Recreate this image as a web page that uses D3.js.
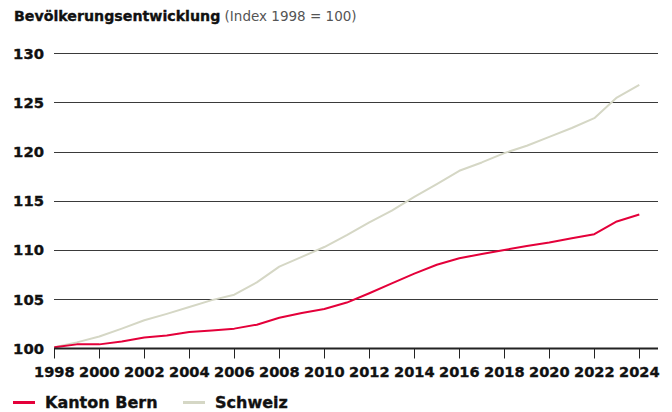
<!DOCTYPE html>
<html>
<head>
<meta charset="utf-8">
<script src="https://cdn.jsdelivr.net/npm/d3@7"></script>
<style>
  body { margin: 0; background: #fff; }
  svg text { font-family: "DejaVu Sans", sans-serif; }
  .heavy { stroke: #111; stroke-width: 0.35px; }
</style>
</head>
<body>
<div id="chart"></div>
<script>
// data (Index 1998 = 100)
const years = d3.range(1998, 2025);
const bern = [100.1, 100.4, 100.4, 100.7, 101.1, 101.3, 101.65, 101.8, 102.0, 102.4, 103.1, 103.6, 104.0,
  104.65, 105.6, 106.6, 107.6, 108.5, 109.15, 109.6, 110.0, 110.4, 110.75, 111.2, 111.6, 112.9, 113.6];
const schweiz = [100.1, 100.6, 101.2, 102.0, 102.85, 103.5, 104.2, 104.9, 105.45, 106.7, 108.3, 109.3, 110.3,
  111.5, 112.8, 114.0, 115.4, 116.7, 118.05, 118.9, 119.85, 120.6, 121.5, 122.4, 123.4, 125.5, 126.8];
const yTicks = [100, 105, 110, 115, 120, 125, 130];
const xTicks = d3.range(1998, 2025, 2);
const seriesNames = ["Kanton Bern", "Schweiz"];
const seriesColors = ["#e4003a", "#d5d7c5"];

const width = 672, height = 412;
const margin = {top: 53, right: 14, bottom: 64, left: 54};
const plotRight = 658;

const svg = d3.select("#chart").append("svg")
  .attr("width", width)
  .attr("height", height);

const x = d3.scaleLinear().domain([1998, 2024]).range([54.3, 639.3]);
const y = d3.scaleLinear().domain([100, 130]).range([348.3, 53.3]);

// title
const title = svg.append("text").attr("x", 14).attr("y", 21).attr("font-size", 14.2);
title.append("tspan").attr("font-weight", 700).attr("fill", "#111").attr("class", "heavy").text("Bevölkerungsentwicklung");
title.append("tspan").attr("font-weight", 400).attr("fill", "#555").attr("font-size", 13.5).text(" (Index 1998 = 100)");

// gridlines + y labels
const grid = svg.append("g");
grid.selectAll("line").data(yTicks.filter(d => d > 100)).join("line")
  .attr("x1", margin.left).attr("x2", plotRight)
  .attr("y1", d => Math.round(y(d)) + 0.5).attr("y2", d => Math.round(y(d)) + 0.5)
  .attr("stroke", "#3a3a3a").attr("stroke-width", 1);

svg.append("g").selectAll("text").data(yTicks).join("text")
  .attr("class", "heavy")
  .attr("x", 44).attr("y", d => y(d) + 5.5)
  .attr("text-anchor", "end")
  .attr("font-size", 14.8).attr("font-weight", 700).attr("fill", "#111")
  .text(d => d);

// lines
const line = d3.line().x((d, i) => x(years[i])).y(d => y(d));
[schweiz, bern].forEach((s, k) => {
  svg.append("path").datum(s)
    .attr("fill", "none")
    .attr("stroke", k === 0 ? seriesColors[1] : seriesColors[0])
    .attr("stroke-width", 2)
    .attr("stroke-linejoin", "round")
    .attr("d", line);
});

// x axis
const xAxis = svg.append("g").attr("transform", "translate(0," + 348.5 + ")");
xAxis.append("line").attr("x1", margin.left).attr("x2", plotRight)
  .attr("stroke", "#222").attr("stroke-width", 2);
xAxis.selectAll(".tick").data(xTicks).join("line")
  .attr("x1", d => Math.round(x(d)) + 0.5).attr("x2", d => Math.round(x(d)) + 0.5)
  .attr("y1", 0).attr("y2", 10)
  .attr("stroke", "#222").attr("stroke-width", 1);
xAxis.selectAll("text").data(xTicks).join("text")
  .attr("class", "heavy")
  .attr("x", d => x(d)).attr("y", 28)
  .attr("text-anchor", "middle")
  .attr("font-size", 14.6).attr("font-weight", 700).attr("fill", "#111")
  .text(d => d);

// legend
const legend = svg.append("g").attr("transform", "translate(13,402.5)");
const legendX = [0, 170];
seriesNames.forEach((name, i) => {
  const g = legend.append("g").attr("transform", "translate(" + legendX[i] + ",0)");
  g.append("line").attr("x1", 0).attr("x2", 22).attr("y1", 0).attr("y2", 0)
    .attr("stroke", seriesColors[i]).attr("stroke-width", 3);
  g.append("text").attr("class", "heavy").attr("x", 32).attr("y", 5.5)
    .attr("font-size", 16).attr("font-weight", 700).attr("fill", "#111")
    .text(name);
});
</script>
</body>
</html>
